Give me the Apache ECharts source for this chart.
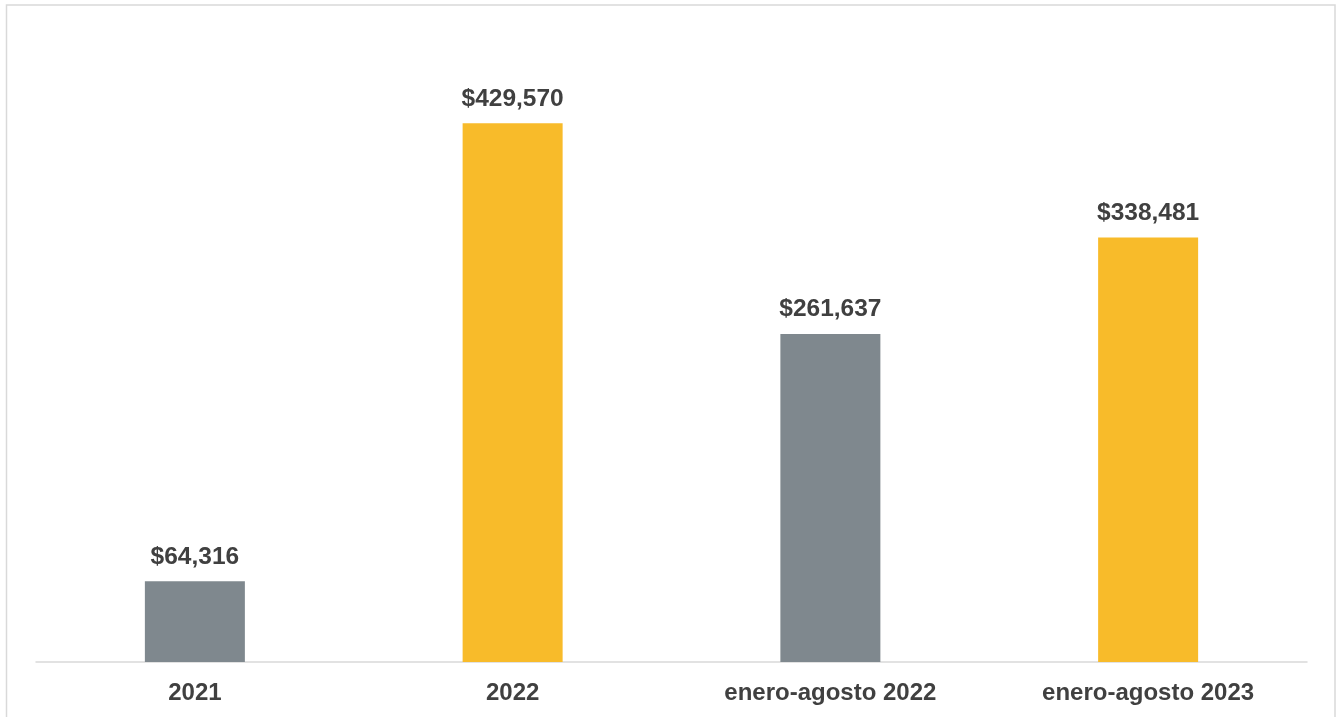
<!DOCTYPE html>
<html><head><meta charset="utf-8">
<script src="https://cdn.jsdelivr.net/npm/echarts@6/dist/echarts.min.js"></script>
<style>html,body{margin:0;padding:0;background:#fff}#c{width:1336px;height:717px}</style>
</head><body><div id="c"></div>
<script>
const categories = ['2021', '2022', 'enero-agosto 2022', 'enero-agosto 2023'];
const values = [64316, 429570, 261637, 338481];
const colors = ['#7F888E', '#F8BB2A', '#7F888E', '#F8BB2A'];

const chart = echarts.init(document.getElementById('c'));
chart.setOption({
  animation: false,
  backgroundColor: '#fff',
  graphic: [{
    type: 'rect', shape: { x: 6.5, y: 5, width: 1328.5, height: 730 },
    style: { fill: 'none', stroke: '#D9D9D9', lineWidth: 1.5 }, silent: true
  }],
  grid: { left: 36, right: 29, top: 35, bottom: 55, containLabel: false },
  xAxis: {
    type: 'category', data: categories,
    axisLine: { lineStyle: { color: '#D9D9D9', width: 1.5 } },
    axisTick: { show: false },
    axisLabel: { color: '#404040', fontFamily: 'Liberation Sans, Arial', fontWeight: 'bold', fontSize: 24, margin: 19 }
  },
  yAxis: { type: 'value', min: 0, max: 500000, show: false, splitLine: { show: false } },
  series: [{
    type: 'bar', barWidth: 100,
    data: values.map((v, i) => ({ value: v, itemStyle: { color: colors[i] } })),
    label: {
      show: true, position: 'top', distance: 12, color: '#404040',
      fontFamily: 'Liberation Sans, Arial', fontWeight: 'bold', fontSize: 24.5,
      formatter: p => '$' + p.value.toLocaleString('en-US')
    }
  }]
});
</script></body></html>
